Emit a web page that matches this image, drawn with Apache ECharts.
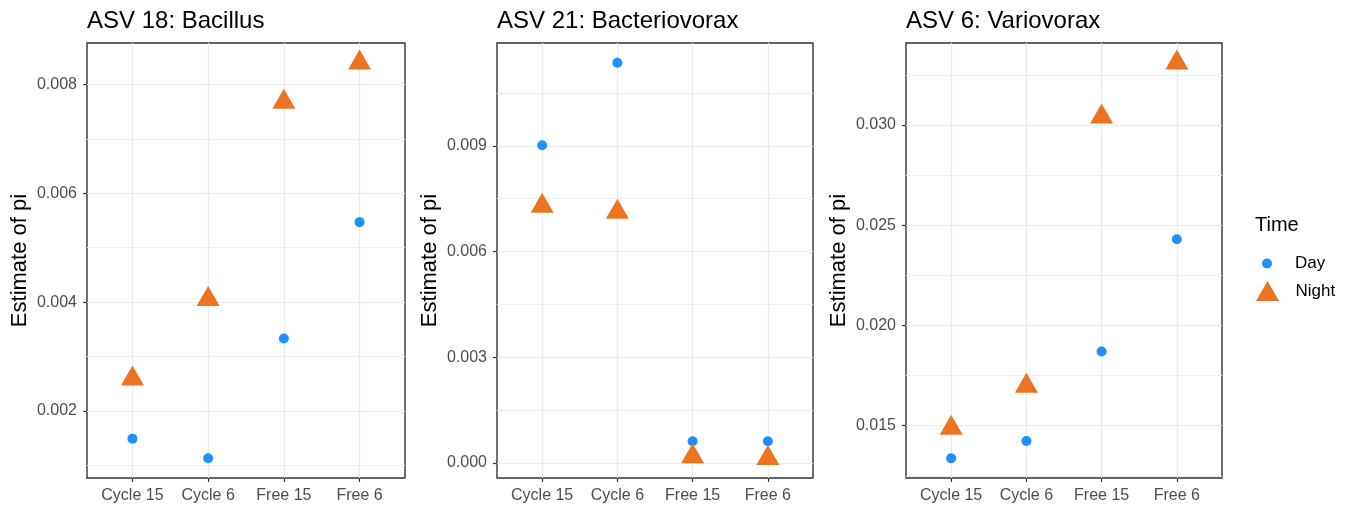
<!DOCTYPE html>
<html>
<head>
<meta charset="utf-8">
<script src="https://cdn.jsdelivr.net/npm/echarts@6/dist/echarts.min.js"></script>
<style>
html,body{margin:0;padding:0;background:#fff;}
#chart{width:1347px;height:505px;}
</style>
</head>
<body>
<div id="chart"></div>
<script>
// ---- data ----
const categories = ['Cycle 15', 'Cycle 6', 'Free 15', 'Free 6'];
const titles = ['ASV 18: Bacillus', 'ASV 21: Bacteriovorax', 'ASV 6: Variovorax'];

const bacillusDay   = [0.00149, 0.00113, 0.00333, 0.00547];
const bacillusNight = [0.00259, 0.00405, 0.00768, 0.00840];

const bacteriovoraxDay   = [0.00902, 0.01136, 0.00061, 0.00061];
const bacteriovoraxNight = [0.00729, 0.00712, 0.00018, 0.00013];

const variovoraxDay   = [0.01338, 0.01424, 0.0187, 0.0243];
const variovoraxNight = [0.01489, 0.01698, 0.0304, 0.03310];

const yTicks1 = [0.002, 0.004, 0.006, 0.008];
const yMinor1 = [0.001, 0.003, 0.005, 0.007];
const yTicks2 = [0.000, 0.003, 0.006, 0.009];
const yMinor2 = [0.0015, 0.0045, 0.0075, 0.0105];
const yTicks3 = [0.015, 0.020, 0.025, 0.030];
const yMinor3 = [0.0125, 0.0175, 0.0225, 0.0275, 0.0325];

// ---- styling / layout ----
const BLUE = '#1E90FF';
const ORANGE = '#EC7421';
const FONT = 'Liberation Sans, Arial, Helvetica, sans-serif';
const GRIDC = '#ebebeb';
const MINORC = '#efefef';

const panels = [
  {title: titles[0], day: bacillusDay, night: bacillusNight, ticks: yTicks1, minor: yMinor1, left: 87, width: 318},
  {title: titles[1], day: bacteriovoraxDay, night: bacteriovoraxNight, ticks: yTicks2, minor: yMinor2, left: 497, width: 316},
  {title: titles[2], day: variovoraxDay, night: variovoraxNight, ticks: yTicks3, minor: yMinor3, left: 906, width: 316}
];
const TOP = 43, HEIGHT = 435;

function range(a, b) {
  const all = a.concat(b);
  const mn = Math.min.apply(null, all), mx = Math.max.apply(null, all);
  const r = mx - mn;
  return [mn - 0.05 * r, mx + 0.05 * r];
}

const grids = [], xAxes = [], yAxes = [], series = [], titleComps = [];
const catIdx = categories.map((c, i) => i);

panels.forEach((p, i) => {
  grids.push({left: p.left, top: TOP, width: p.width, height: HEIGHT, show: true,
    backgroundColor: '#fff', borderColor: '#333333', borderWidth: 1.4, containLabel: false});
  xAxes.push({
    type: 'value', gridIndex: i, min: -0.6, max: categories.length - 1 + 0.6,
    axisLine: {show: false, onZero: false},
    axisTick: {show: true, length: 4, customValues: catIdx, lineStyle: {color: '#333333', width: 1.2}},
    axisLabel: {customValues: catIdx, margin: 10, color: '#4d4d4d', fontSize: 16, fontFamily: FONT,
      formatter: v => categories[Math.round(v)]},
    splitLine: {show: true, lineStyle: {color: GRIDC, width: 1.2}}
  });
  const yr = range(p.day, p.night);
  yAxes.push({
    type: 'value', gridIndex: i, min: yr[0], max: yr[1],
    name: 'Estimate of pi', nameLocation: 'middle', nameRotate: 90, nameGap: 56,
    nameTextStyle: {color: '#000', fontSize: 22, fontFamily: FONT},
    axisLine: {show: false, onZero: false},
    axisTick: {show: true, length: 4, customValues: p.ticks, lineStyle: {color: '#333333', width: 1.2}},
    axisLabel: {customValues: p.ticks, margin: 10, color: '#4d4d4d', fontSize: 16, fontFamily: FONT,
      formatter: v => v.toFixed(3)},
    splitLine: {show: true, lineStyle: {color: GRIDC, width: 1.2}}
  });
  series.push({
    type: 'scatter', name: 'Day', xAxisIndex: i, yAxisIndex: i, z: 3,
    data: p.day.map((v, j) => [j, v]),
    symbol: 'circle', symbolSize: 10, itemStyle: {color: BLUE, opacity: 1},
    markLine: {silent: true, symbol: 'none', z: 1, precision: 6, label: {show: false},
      lineStyle: {color: MINORC, width: 1, type: 'solid'},
      data: p.minor.map(v => ({yAxis: v}))}
  });
  series.push({
    type: 'scatter', name: 'Night', xAxisIndex: i, yAxisIndex: i, z: 3,
    data: p.night.map((v, j) => [j, v]),
    symbol: 'triangle', symbolSize: [23, 20], symbolOffset: [0, -3.3],
    itemStyle: {color: ORANGE, opacity: 1}
  });
  titleComps.push({text: p.title, left: p.left, top: 9, padding: 0,
    textStyle: {color: '#000', fontSize: 24, fontWeight: 'normal', fontFamily: FONT}});
});

titleComps.push({text: 'Time', left: 1255, top: 215, padding: 0,
  textStyle: {color: '#000', fontSize: 20, fontWeight: 'normal', fontFamily: FONT}});

const chart = echarts.init(document.getElementById('chart'), null, {renderer: 'canvas'});
chart.setOption({
  animation: false,
  backgroundColor: '#fff',
  title: titleComps,
  grid: grids,
  xAxis: xAxes,
  yAxis: yAxes,
  legend: [
    {data: ['Day'], left: 1262, top: 255, padding: 0, icon: 'circle', itemWidth: 46, itemHeight: 10,
      textStyle: {color: '#000', fontSize: 17, fontFamily: FONT}, selectedMode: false},
    {data: ['Night'], left: 1256, top: 281, padding: 0, icon: 'path://M0,20L11.5,0L23,20Z', itemWidth: 46, itemHeight: 20,
      textStyle: {color: '#000', fontSize: 17, fontFamily: FONT}, selectedMode: false}
  ],
  series: series
});
</script>
</body>
</html>
